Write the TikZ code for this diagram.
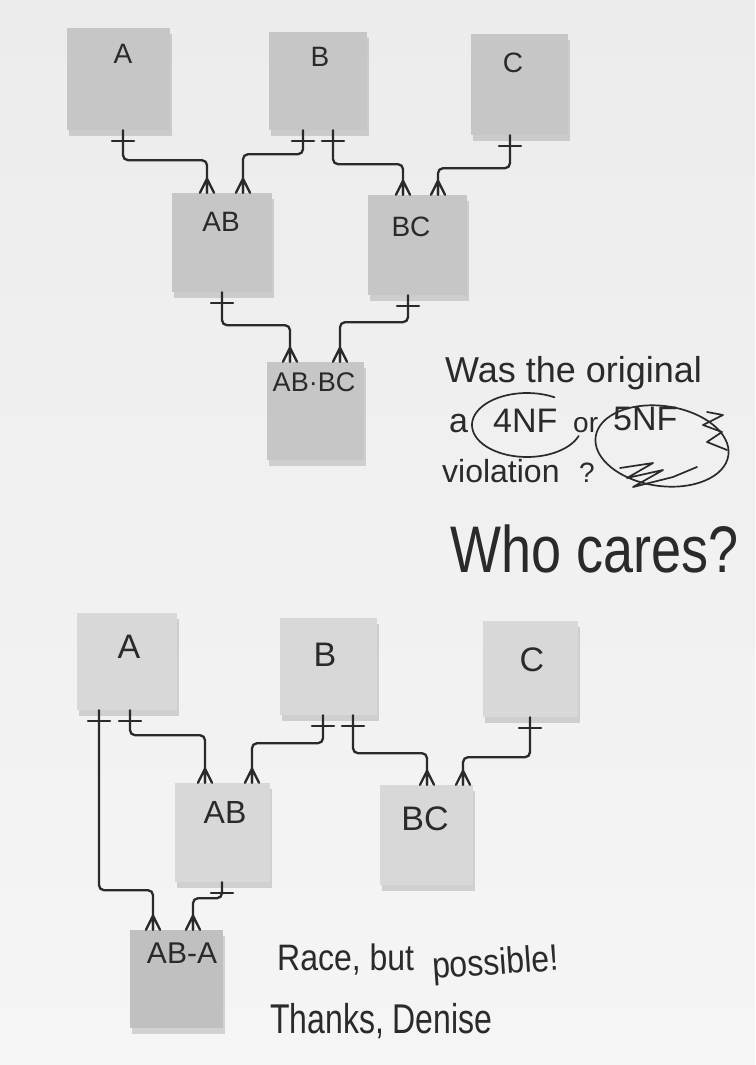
\documentclass[tikz,border=0pt]{standalone}
\usepackage{fontspec}
\usepackage{graphicx}
\setmainfont{Liberation Sans}
\usetikzlibrary{decorations.markings,shadows}
\definecolor{boardtop}{HTML}{ECECEC}
\definecolor{boardbot}{HTML}{F5F5F5}
\definecolor{ink}{HTML}{2A2A2A}
\definecolor{noteA}{HTML}{C6C6C6}
\definecolor{noteB}{HTML}{D8D8D8}
\definecolor{noteC}{HTML}{C0C0C0}
\newcommand{\fs}[1]{\fontsize{#1}{#1}\selectfont}
\begin{document}
\begin{tikzpicture}[x=1pt,y=-1pt,
  pen/.style={draw=ink, line width=2.3pt, line cap=round, line join=round},
  thinpen/.style={draw=ink, line width=1.7pt, line cap=round, line join=round},
  note/.style={draw=none, fill=#1, inner sep=0pt,
    drop shadow={shadow xshift=2pt, shadow yshift=-6pt, fill=black, opacity=0.14}},
  lab/.style={text=ink, inner sep=0pt, font=\fs{#1}},
  hand/.style={text=ink, inner sep=0pt, anchor=base west, font=\fs{#1}},
  onemany/.style={pen, rounded corners=5pt,
    postaction={decorate, decoration={markings,
      mark=at position 11pt with {\draw[pen] (0,-11pt) -- (0,11pt);},
      mark=at position 1 with {\draw[pen] (-14pt,0) -- (0,-7pt) (-14pt,0) -- (0,0) (-14pt,0) -- (0,7pt);}}}}
]
\shade[top color=boardtop, bottom color=boardbot] (0,0) rectangle (755,1065);
\useasboundingbox (0,0) rectangle (755,1065);

% ---------- top diagram ----------
\node[note=noteA, minimum width=103pt, minimum height=102pt] (A1) at (118.5,79) {};
\node[note=noteA, minimum width=98pt, minimum height=98pt] (B1) at (318,81) {};
\node[note=noteA, minimum width=97pt, minimum height=101pt] (C1) at (519.5,84.5) {};
\node[note=noteA, minimum width=100pt, minimum height=99pt] (AB1) at (222,242.5) {};
\node[note=noteA, minimum width=99pt, minimum height=100pt] (BC1) at (417.5,245) {};
\node[note=noteA, minimum width=97pt, minimum height=98pt] (ABBC) at (315.5,411) {};

\node[lab=28] (tA1) at (123,54) {A};
\node[lab=28] (tB1) at (320,57) {B};
\node[lab=28] (tC1) at (513,63) {C};
\node[lab=28] (tAB1) at (221,222) {AB};
\node[lab=28] (tBC1) at (411,227) {BC};
\node[lab=27] (tABBC) at (314,382) {AB·BC};

\draw[onemany] ([xshift=4.5pt]A1.south) -- ++(0,30) -| ([xshift=-15pt]AB1.north);
\draw[onemany] ([xshift=-15pt]B1.south) -- ++(0,24) -| ([xshift=21pt]AB1.north);
\draw[onemany] ([xshift=15pt]B1.south) -- ++(0,34) -| ([xshift=-14.5pt]BC1.north);
\draw[onemany] ([xshift=-9.5pt]C1.south) -- ++(0,33) -| ([xshift=20.5pt]BC1.north);
\draw[onemany] (AB1.south) -- ++(0,33) -| ([xshift=-25.5pt]ABBC.north);
\draw[onemany] ([xshift=-9.5pt]BC1.south) -- ++(0,27) -| ([xshift=24.5pt]ABBC.north);

% ---------- question ----------
\node[hand=36] (q1) at (445,382) {Was the original};
\node[hand=34] (q2a) at (449,432) {a};
\node[hand=34] (q24) at (493,432) {4NF};
\node[hand=28] (q2or) at (573,432) {or};
\node[hand=34] (q25) at (613,430) {5NF};
\node[hand=32] (q3) at (442,482) {violation};
\node[hand=28] (q3q) at (579,482) {?};
\draw[thinpen] (527,425) ++(-60:55 and 32) arc[start angle=-60, end angle=-340, x radius=55, y radius=32];
\draw[thinpen, rotate around={-8:(662,446)}] (662,446) ellipse[x radius=67, y radius=40];
\draw[thinpen] (707,412) -- (723,415) -- (703,425) -- (722,432) -- (707,442) -- (727,450);
\draw[thinpen] (620,468) -- (653,463) -- (627,478) -- (663,470) -- (633,487) -- (673,477) -- (697,467);
\node[hand=54] (who) at (450,572) {\scalebox{1}[1.22]{Who cares?}};

% ---------- bottom diagram ----------
\node[note=noteB, minimum width=100pt, minimum height=97pt] (A2) at (127,661.5) {};
\node[note=noteB, minimum width=97pt, minimum height=97pt] (B2) at (328.5,666.5) {};
\node[note=noteB, minimum width=95pt, minimum height=96pt] (C2) at (530.5,669) {};
\node[note=noteB, minimum width=95pt, minimum height=99pt] (AB2) at (222.5,832.5) {};
\node[note=noteB, minimum width=93pt, minimum height=100pt] (BC2) at (426.5,835) {};
\node[note=noteC, minimum width=93pt, minimum height=98pt] (ABA) at (176.5,979) {};

\node[lab=34] (tA2) at (129,647) {A};
\node[lab=34] (tB2) at (325,655) {B};
\node[lab=34] (tC2) at (532,660) {C};
\node[lab=32] (tAB2) at (225,812) {AB};
\node[lab=34] (tBC2) at (425,819) {BC};
\node[lab=30] (tABA) at (182,953) {AB-A};

\draw[onemany] ([xshift=-28pt]A2.south) -- ++(0,180) -| ([xshift=-23.5pt]ABA.north);
\draw[onemany] ([xshift=3pt]A2.south) -- ++(0,25) -| ([xshift=-17.5pt]AB2.north);
\draw[onemany] ([xshift=-5.5pt]B2.south) -- ++(0,28) -| ([xshift=29.5pt]AB2.north);
\draw[onemany] ([xshift=24.5pt]B2.south) -- ++(0,38) -| ([xshift=0.5pt]BC2.north);
\draw[onemany] ([xshift=-0.5pt]C2.south) -- ++(0,40) -| ([xshift=36.5pt]BC2.north);
\draw[onemany] ([xshift=-0.5pt]AB2.south) -- ++(0,16) -| ([xshift=16.5pt]ABA.north);

\node[hand=32] (r1) at (277,970) {\scalebox{1}[1.15]{Race, but}};
\node[hand=32, rotate=4] (r2) at (433,979) {\scalebox{1}[1.15]{possible!}};
\node[hand=32] (r3) at (270,1033) {\scalebox{1}[1.3]{Thanks, Denise}};
\end{tikzpicture}
\end{document}
